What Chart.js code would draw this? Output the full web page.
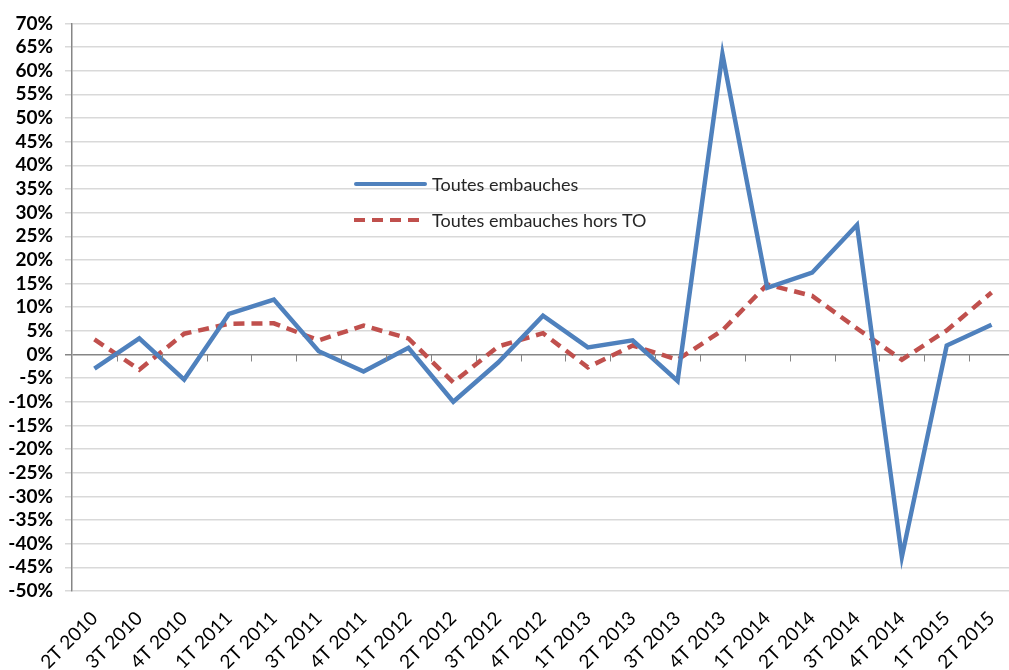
<!DOCTYPE html>
<html>
<head>
<meta charset="utf-8">
<script src="https://cdn.jsdelivr.net/npm/chart.js@4"></script>
<style>
  html, body { margin: 0; padding: 0; background: #fff; overflow: hidden; }
  #wrap { width: 1009px; height: 670px; overflow: hidden; }
</style>
</head>
<body>
<div id="wrap"><canvas id="chart" width="1016" height="670"></canvas></div>
<script>
// Quarters
const quarters = ['2T 2010', '3T 2010', '4T 2010', '1T 2011', '2T 2011', '3T 2011', '4T 2011',
  '1T 2012', '2T 2012', '3T 2012', '4T 2012', '1T 2013', '2T 2013', '3T 2013', '4T 2013',
  '1T 2014', '2T 2014', '3T 2014', '4T 2014', '1T 2015', '2T 2015'];

// Evolution (in %)
const toutesEmbauches = [-3.0, 3.4, -5.3, 8.6, 11.6, 0.7, -3.6, 1.4, -10.0, -1.7, 8.2,
  1.5, 3.0, -5.6, 63.5, 14.1, 17.3, 27.4, -42.8, 1.9, 6.3];
const horsTO = [3.2, -3.2, 4.4, 6.5, 6.6, 3.0, 6.1, 3.4, -5.9, 1.7, 4.5,
  -2.7, 1.9, -1.1, 5.1, 14.8, 12.4, 5.5, -1.1, 5.1, 13.1];

const seriesNames = ['Toutes embauches', 'Toutes embauches hors TO'];
const blue = '#4F81BD';
const red = '#C0504D';

// legend drawn inside the plot + the x axis line at 0 with its tick marks
const extras = {
  id: 'extras',
  afterDatasetsDraw(chart) {
    const ctx = chart.ctx;
    const x = chart.scales.x, y = chart.scales.y;
    const y0 = y.getPixelForValue(0);
    ctx.save();
    ctx.strokeStyle = '#868686';
    ctx.lineWidth = 1;
    ctx.beginPath();
    for (let i = 1; i < quarters.length; i++) {
      const px = Math.round((x.getPixelForValue(i - 1) + x.getPixelForValue(i)) / 2) + 0.5;
      ctx.moveTo(px, y0);
      ctx.lineTo(px, y0 + 7);
    }
    ctx.stroke();

    // legend
    ctx.lineCap = 'round';
    ctx.lineWidth = 4;
    ctx.strokeStyle = blue;
    ctx.beginPath();
    ctx.moveTo(356, 184);
    ctx.lineTo(425, 184);
    ctx.stroke();
    ctx.strokeStyle = red;
    ctx.lineCap = 'butt';
    ctx.setLineDash([11, 7]);
    ctx.beginPath();
    ctx.moveTo(354, 220);
    ctx.lineTo(426, 220);
    ctx.stroke();
    ctx.setLineDash([]);
    ctx.fillStyle = '#262626';
    ctx.font = '18px Lato';
    ctx.textBaseline = 'middle';
    ctx.fillText(seriesNames[0], 432, 185);
    ctx.fillText(seriesNames[1], 432, 221);
    ctx.restore();
  }
};

new Chart(document.getElementById('chart'), {
  type: 'line',
  data: {
    labels: quarters,
    datasets: [
      {
        label: seriesNames[0],
        data: toutesEmbauches,
        borderColor: blue,
        borderWidth: 4.5,
        pointRadius: 0,
        tension: 0,
        fill: false
      },
      {
        label: seriesNames[1],
        data: horsTO,
        borderColor: red,
        borderWidth: 4.5,
        borderDash: [11, 7],
        pointRadius: 0,
        tension: 0,
        fill: false
      }
    ]
  },
  options: {
    responsive: false,
    animation: false,
    layout: { padding: { top: 20, right: 2, left: 0, bottom: 0 } },
    plugins: {
      legend: { display: false },
      tooltip: { enabled: false }
    },
    scales: {
      x: {
        offset: true,
        grid: { display: false },
        border: { display: false },
        ticks: {
          autoSkip: false,
          minRotation: 45,
          maxRotation: 45,
          color: '#000',
          padding: 8,
          font: { family: 'Lato', size: 19 }
        },
        afterFit(scale) { scale.height = 79; }
      },
      y: {
        min: -50,
        max: 70,
        ticks: {
          stepSize: 5,
          autoSkip: false,
          color: '#000',
          padding: 12,
          font: { family: 'Lato', size: 19, weight: 'bold' },
          callback: v => v + '%'
        },
        grid: {
          color: ctx => ctx.tick && ctx.tick.value === 0 ? '#868686' : '#d9d9d9',
          lineWidth: 1.5,
          tickLength: 7,
          drawTicks: true
        },
        border: { color: '#868686', width: 1.5 },
        afterFit(scale) { scale.width = 72; }
      }
    }
  },
  plugins: [extras]
});
</script>
</body>
</html>
